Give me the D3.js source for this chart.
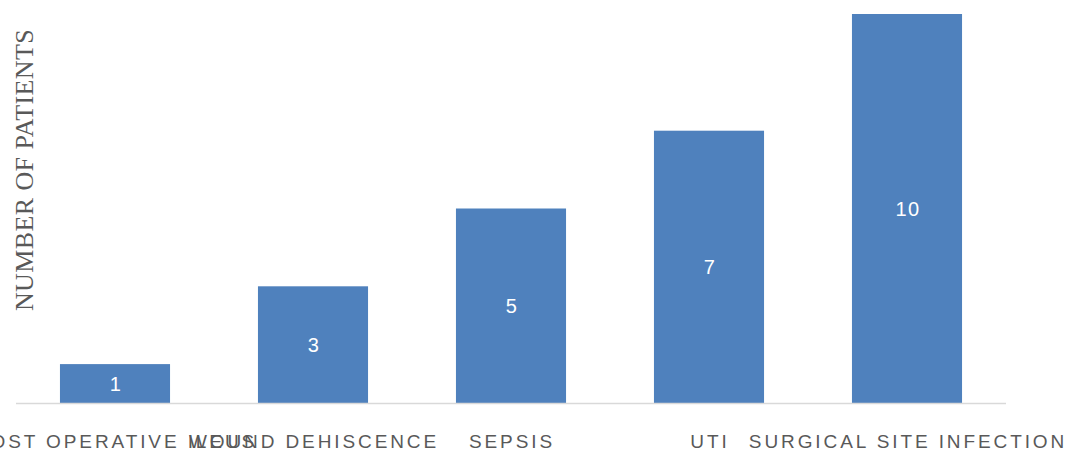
<!DOCTYPE html>
<html>
<head>
<meta charset="utf-8">
<script src="https://cdn.jsdelivr.net/npm/d3@7"></script>
<style>
  html, body { margin: 0; padding: 0; background: #fff; }
  svg { display: block; }
</style>
</head>
<body>
<svg id="chart" width="1065" height="450"></svg>
<script>
const categories = ["POST OPERATIVE ILEUS", "WOUND DEHISCENCE", "SEPSIS", "UTI", "SURGICAL SITE INFECTION"];
const values = [1, 3, 5, 7, 10];
const yTitle = "NUMBER OF PATIENTS";

const svg = d3.select("#chart");
const x = d3.scaleBand().domain(categories).range([16, 1006]).paddingInner(0.444).paddingOuter(0.222);
const y = d3.scaleLinear().domain([0, 10]).range([403, 14]);

svg.append("g").selectAll("rect")
  .data(values)
  .join("rect")
  .attr("x", (d, i) => x(categories[i]))
  .attr("width", x.bandwidth())
  .attr("y", d => y(d))
  .attr("height", d => y(0) - y(d))
  .attr("fill", "#4f81bd");

svg.append("line")
  .attr("x1", 16).attr("x2", 1006)
  .attr("y1", 403.5).attr("y2", 403.5)
  .attr("stroke", "#d9d9d9").attr("stroke-width", 1.5);

svg.append("g").selectAll("text")
  .data(values)
  .join("text")
  .attr("x", (d, i) => x(categories[i]) + x.bandwidth() / 2 + 1)
  .attr("y", d => (y(d) + y(0)) / 2)
  .attr("dy", "0.36em")
  .attr("text-anchor", "middle")
  .attr("fill", "#ffffff")
  .attr("font-family", "Liberation Sans, Arial, sans-serif")
  .attr("font-size", 20)
  .style("letter-spacing", "1.5px")
  .text(d => d);

svg.append("g").selectAll("text")
  .data(categories)
  .join("text")
  .attr("x", d => x(d) + x.bandwidth() / 2 + 1)
  .attr("y", 448)
  .attr("text-anchor", "middle")
  .attr("fill", "#595959")
  .attr("font-family", "Liberation Sans, Arial, sans-serif")
  .attr("font-size", 19)
  .style("letter-spacing", "2.9px")
  .text(d => d);

svg.append("text")
  .attr("transform", "translate(33,170) rotate(-90)")
  .attr("text-anchor", "middle")
  .attr("fill", "#595959")
  .attr("font-family", "Liberation Serif, Times New Roman, serif")
  .attr("font-size", 26)
  .style("letter-spacing", "0.4px")
  .text(yTitle);
</script>
</body>
</html>
